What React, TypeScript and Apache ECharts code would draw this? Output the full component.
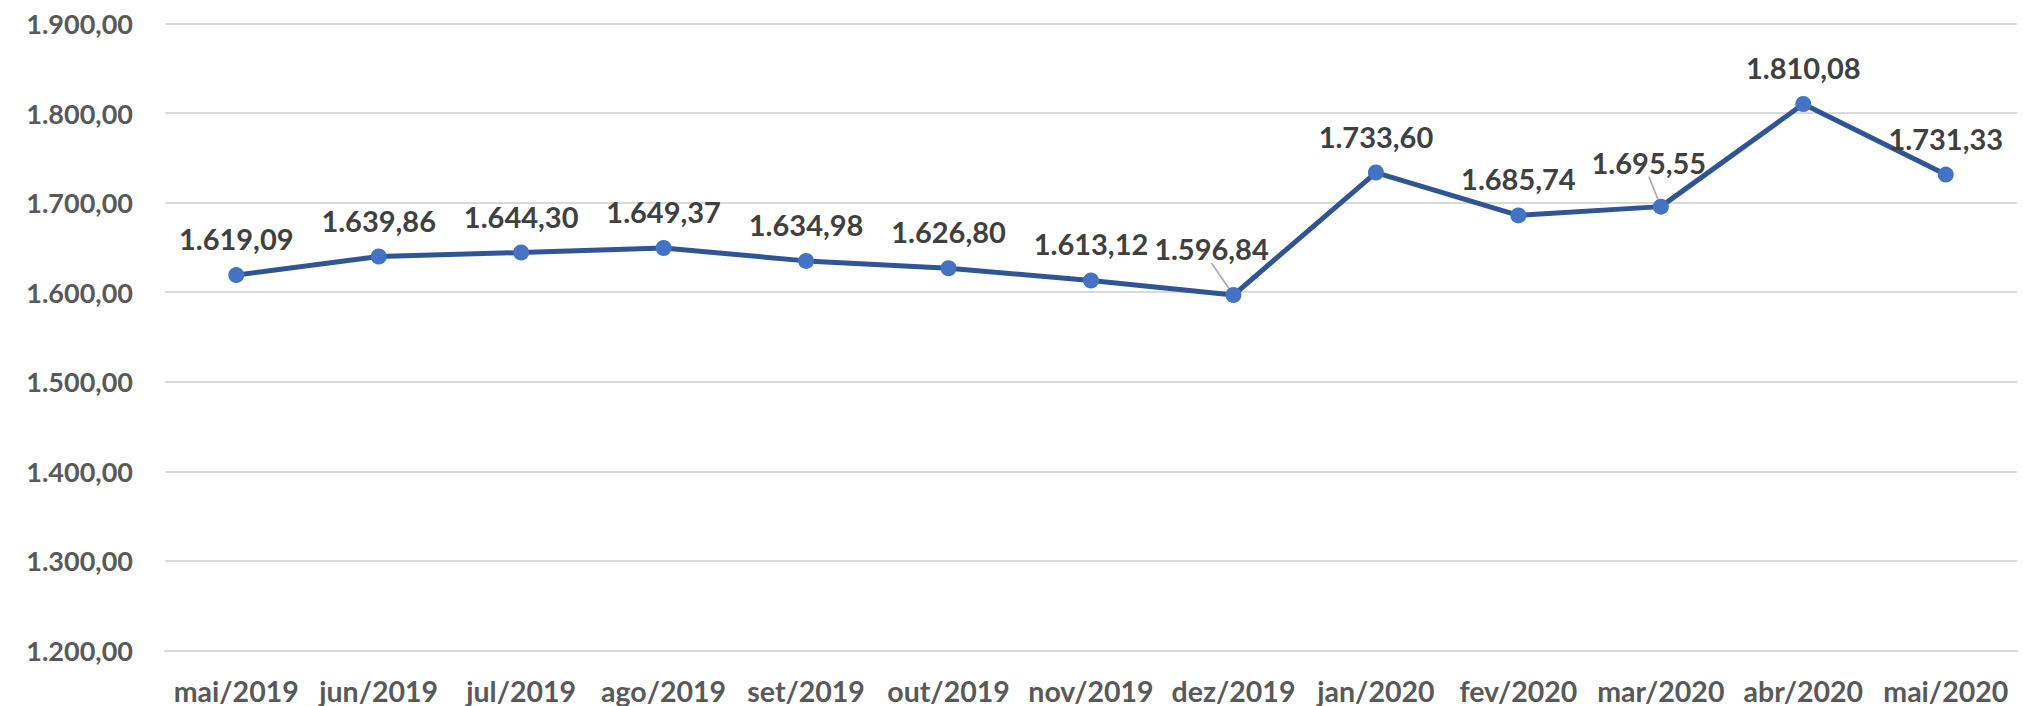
import React, { useEffect, useRef } from "react";
import * as echarts from "echarts";

const categories = [
  "mai/2019", "jun/2019", "jul/2019", "ago/2019", "set/2019", "out/2019", "nov/2019",
  "dez/2019", "jan/2020", "fev/2020", "mar/2020", "abr/2020", "mai/2020",
];
const values = [
  1619.09, 1639.86, 1644.3, 1649.37, 1634.98, 1626.8, 1613.12,
  1596.84, 1733.6, 1685.74, 1695.55, 1810.08, 1731.33,
];
const yMin = 1200;
const yMax = 1900;
const yStep = 100;

// labels moved off their points (with leader lines): offset of label centre from default
const movedLabels: Record<number, [number, number]> = { 7: [-22, -10], 10: [-12, -8] };

function fmt(v: number): string {
  const fixed = v.toFixed(2);
  const [int, dec] = fixed.split(".");
  const withDots = int.replace(/\B(?=(\d{3})+(?!\d))/g, ".");
  return withDots + "," + dec;
}

export default function App() {
  const ref = useRef<HTMLDivElement>(null);
  useEffect(() => {
    document.body.style.margin = "0";
    const chart = echarts.init(ref.current!, null, { renderer: "svg" });
    chart.setOption({
      animation: false,
      backgroundColor: "#ffffff",
      grid: { left: 165, right: 6, top: 23.5, bottom: 55.5, containLabel: false },
      xAxis: {
        type: "category",
        data: categories,
        boundaryGap: true,
        axisLine: { show: true, lineStyle: { color: "#D9D9D9", width: 2 } },
        axisTick: { show: false },
        axisLabel: {
          color: "#595959",
          fontFamily: "Lato",
          fontWeight: "bold",
          fontSize: 28.5,
          lineHeight: 28,
          margin: 26,
          interval: 0,
        },
      },
      yAxis: {
        type: "value",
        min: yMin,
        max: yMax,
        interval: yStep,
        axisLine: { show: false },
        axisTick: { show: false },
        splitLine: { show: true, lineStyle: { color: "#D9D9D9", width: 2 } },
        axisLabel: {
          color: "#595959",
          fontFamily: "Lato",
          fontWeight: "bold",
          fontSize: 27,
          margin: 32,
          formatter: (v: number) => fmt(v),
        },
      },
      series: [
        {
          type: "line",
          data: values.map((v, i) =>
            movedLabels[i]
              ? { value: v, labelLine: { show: true, lineStyle: { color: "#A6A6A6", width: 1.5 } } }
              : { value: v }
          ),
          symbol: "circle",
          symbolSize: 16,
          lineStyle: { color: "#2F5597", width: 5 },
          itemStyle: { color: "#4472C4" },
          label: {
            show: true,
            position: "top",
            distance: 14,
            color: "#404040",
            fontFamily: "Lato",
            fontWeight: "bold",
            fontSize: 29,
            formatter: (p: any) => fmt(p.value),
          },
          labelLine: { show: false, lineStyle: { color: "#A6A6A6", width: 1.5 } },
          labelLayout: (p: any) => {
            const m = movedLabels[p.dataIndex];
            if (!m) return {};
            const r = p.labelRect;
            return {
              x: r.x + r.width / 2 + m[0],
              y: r.y + r.height / 2 + m[1],
              align: "center",
              verticalAlign: "middle",
            };
          },
        },
      ],
    });
    return () => chart.dispose();
  }, []);
  return (
    <div
      ref={ref}
      style={{ position: "fixed", left: 0, top: 0, width: 2023, height: 706, background: "#fff" }}
    />
  );
}
